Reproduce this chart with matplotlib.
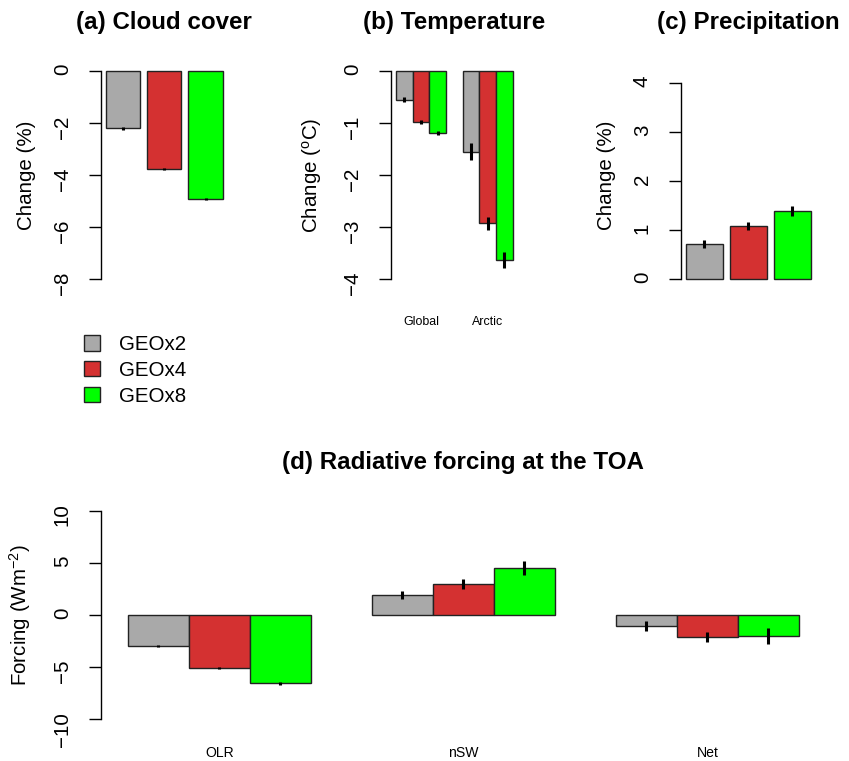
import matplotlib
matplotlib.use('Agg')
import matplotlib.pyplot as plt
from matplotlib.patches import Patch
import numpy as np

plt.rcParams['font.family'] = ['Liberation Sans', 'DejaVu Sans']
plt.rcParams['mathtext.fontset'] = 'custom'
plt.rcParams['mathtext.rm'] = 'Liberation Sans'
plt.rcParams['mathtext.it'] = 'Liberation Sans:italic'

# data
scenarios = ['GEOx2', 'GEOx4', 'GEOx8']
colors = ['#A9A9A9', '#D43131', '#00FF00']

cloud = [-2.2, -3.77, -4.93]
cloud_err = [0.05, 0.04, 0.05]

temp_regions = ['Global', 'Arctic']
temp_global = [-0.55, -0.98, -1.2]
temp_global_err = [0.05, 0.04, 0.04]
temp_arctic = [-1.55, -2.93, -3.63]
temp_arctic_err = [0.16, 0.13, 0.15]

precip = [0.72, 1.08, 1.39]
precip_err = [0.08, 0.09, 0.1]

forcing_terms = ['OLR', 'nSW', 'Net']
forcing_olr = [-3.0, -5.07, -6.55]
forcing_olr_err = [0.1, 0.1, 0.15]
forcing_nsw = [1.92, 2.98, 4.54]
forcing_nsw_err = [0.4, 0.48, 0.65]
forcing_net = [-1.06, -2.08, -2.0]
forcing_net_err = [0.46, 0.46, 0.78]

W, H = 849, 761
fig = plt.figure(figsize=(W / 100, H / 100), dpi=100)


def add_ax(l, t, r, b):
    return fig.add_axes([l / W, 1 - b / H, (r - l) / W, (b - t) / H])


def rlim(lo, hi):
    d = (hi - lo) * 0.04
    return lo - d, hi + d


def style(ax, ylim, ticks, title, ylabel, label_px, left_px, width_px):
    ax.set_ylim(*rlim(*ylim))
    for s in ['top', 'right', 'bottom']:
        ax.spines[s].set_visible(False)
    ax.spines['left'].set_bounds(ticks[0], ticks[-1])
    ax.spines['left'].set_linewidth(1.0)
    ax.set_yticks(ticks)
    ax.tick_params(axis='y', length=8.4, width=1.0, labelsize=14.8,
                   labelrotation=90, pad=12.5)
    ax.tick_params(axis='x', length=0)
    ax.set_title(title, fontsize=17.4, fontweight='bold', pad=24)
    ax.set_ylabel(ylabel, fontsize=14.8)
    ax.yaxis.set_label_coords((label_px - left_px) / width_px, 0.5)


def bars(ax, centers, vals, errs):
    ax.bar(centers, vals, width=1, color=colors, edgecolor='#222222', linewidth=1.0)
    ax.errorbar(centers, vals, yerr=errs, fmt='none', ecolor='black',
                elinewidth=2.2, capsize=0)


# simple barplot positions (space 0.2)
simple_x = 0.7 + 1.2 * np.arange(len(scenarios))
simple_lim = rlim(0.2, 0.2 + 1.2 * len(scenarios) - 0.2)

# (a) cloud cover
ax_a = add_ax(101, 62.7, 227.4, 287.3)
bars(ax_a, simple_x, cloud, cloud_err)
ax_a.set_xlim(*simple_lim)
ax_a.set_xticks([])
style(ax_a, (-8, 0), [-8, -6, -4, -2, 0], '(a) Cloud cover', 'Change (%)', 36, 101, 126.4)

# (b) temperature, grouped
ax_b = add_ax(391.3, 62.7, 517.3, 287.3)
n = len(scenarios)
for g, (vals, errs) in enumerate([(temp_global, temp_global_err), (temp_arctic, temp_arctic_err)]):
    cx = 1 + g * (n + 1) + np.arange(n) + 0.5
    bars(ax_b, cx, vals, errs)
ax_b.set_xlim(*rlim(1, 1 + len(temp_regions) * (n + 1) - 1))
ax_b.set_xticks([1 + g * (n + 1) + n / 2 for g in range(len(temp_regions))])
ax_b.set_xticklabels(temp_regions, fontsize=8.9)
ax_b.tick_params(axis='x', pad=21)
style(ax_b, (-4, 0), [-4, -3, -2, -1, 0], '(b) Temperature', r'Change ($^{\mathrm{o}}$C)', 324, 391.3, 126)

# (c) precipitation
ax_c = add_ax(681, 62.7, 815.8, 287.3)
bars(ax_c, simple_x, precip, precip_err)
ax_c.set_xlim(*simple_lim)
ax_c.set_xticks([])
style(ax_c, (0, 4.235), [0, 1, 2, 3, 4], '(c) Precipitation', 'Change (%)', 616, 681, 134.8)
ax_c.spines['left'].set_bounds(0, 4)

# (d) radiative forcing
ax_d = add_ax(101, 502.7, 825.7, 727.7)
for g, (vals, errs) in enumerate([(forcing_olr, forcing_olr_err), (forcing_nsw, forcing_nsw_err),
                                  (forcing_net, forcing_net_err)]):
    cx = 1 + g * (n + 1) + np.arange(n) + 0.5
    bars(ax_d, cx, vals, errs)
ax_d.set_xlim(*rlim(1, 1 + len(forcing_terms) * (n + 1) - 1))
ax_d.set_xticks([1 + g * (n + 1) + n / 2 for g in range(len(forcing_terms))])
ax_d.set_xticklabels(forcing_terms, fontsize=10.1)
ax_d.tick_params(axis='x', pad=13)
style(ax_d, (-10, 10), [-10, -5, 0, 5, 10], '(d) Radiative forcing at the TOA',
      r'Forcing (Wm$^{-2}$)', 33, 101, 724.7)

# legend
handles = [Patch(facecolor=c, edgecolor='#222222', linewidth=1.0) for c in colors]
fig.legend(handles, scenarios, loc='upper left', bbox_to_anchor=(84 / W, 1 - 335 / H),
           frameon=False, fontsize=14.8, handlelength=0.78, handleheight=0.78,
           handletextpad=0.9, labelspacing=0.33, borderpad=0, borderaxespad=0)

fig.savefig('out.png', dpi=100)
